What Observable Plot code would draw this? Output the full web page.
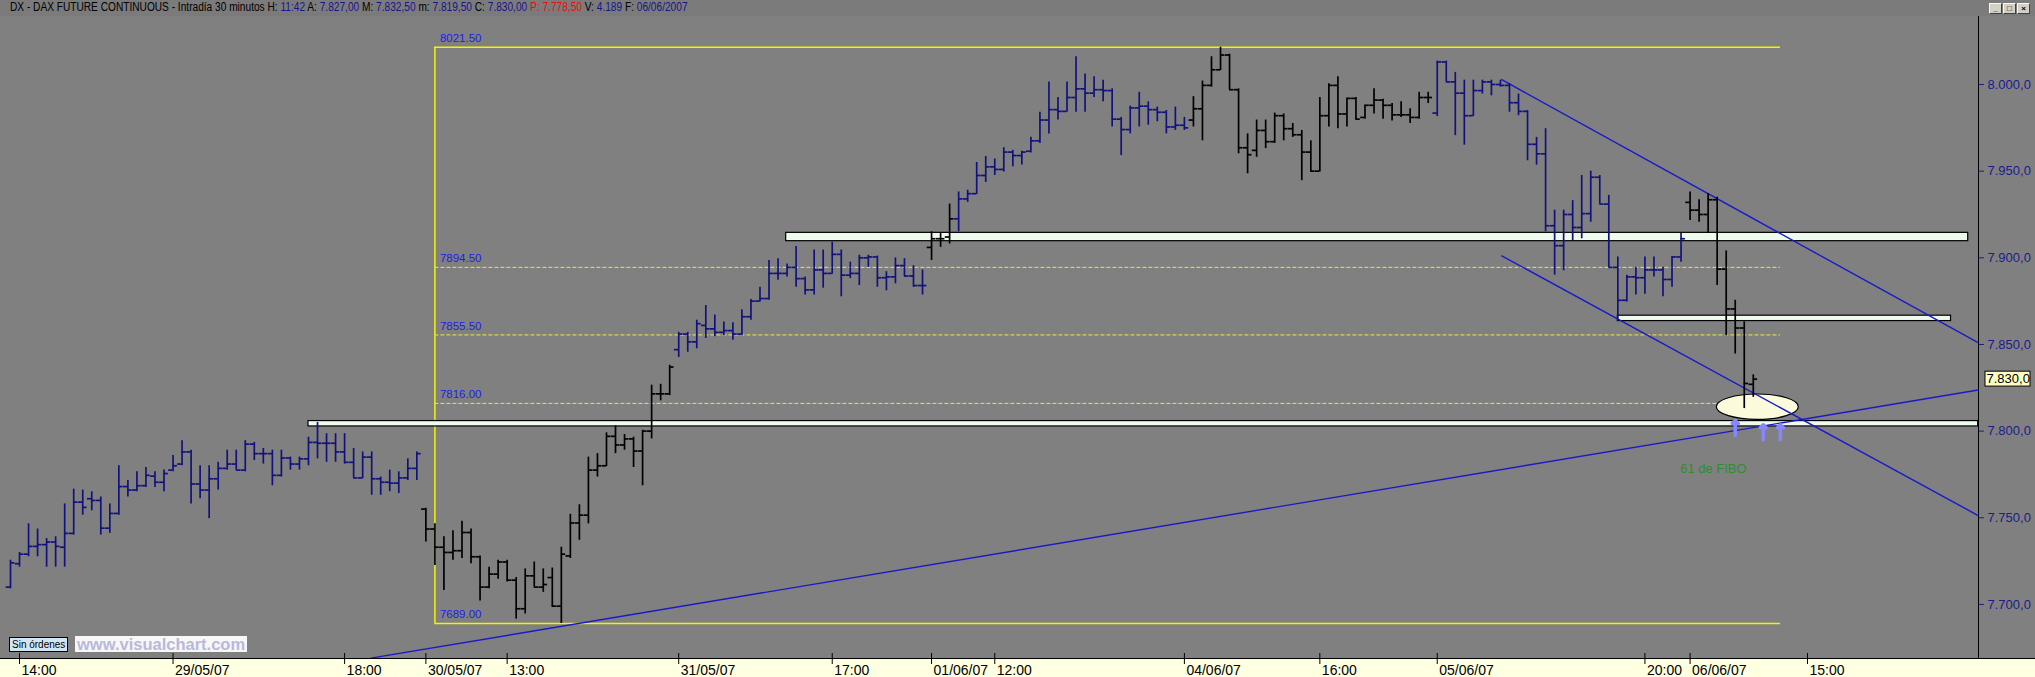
<!DOCTYPE html>
<html><head><meta charset="utf-8">
<script src="https://cdn.jsdelivr.net/npm/d3@7"></script>
<script src="https://cdn.jsdelivr.net/npm/@observablehq/plot@0.6"></script>
<style>
html,body{margin:0;padding:0;background:#808080;width:2035px;height:677px;overflow:hidden;}
#hdr{position:relative;height:16px;background:#7b7b7b;font-family:"Liberation Sans",Arial,sans-serif;font-size:12px;line-height:15px;white-space:pre;color:#000;box-sizing:border-box;}
#hdrtxt{position:absolute;left:10px;top:0;display:inline-block;transform:scaleX(0.845);transform-origin:0 0;}
#hdr .v{color:#16168a}
#hdr .r{color:#e01010}
#btns{position:absolute;right:5px;top:3px;display:flex;gap:1px;}
#btns span{display:block;width:11px;height:9px;background:#d4d0c8;border:1px solid #f8f8f8;border-right-color:#404040;border-bottom-color:#404040;font:bold 8px/9px "Liberation Sans",sans-serif;text-align:center;color:#000;}
#chart{position:relative;height:661px;}
#orders{position:absolute;left:9px;top:637px;height:13px;padding:0 2px;background:#cfe6f5;border:1px solid #000;font:10px/13px "Liberation Sans Narrow","Liberation Sans",sans-serif;color:#000;}
#brand{position:absolute;left:75px;top:636px;height:16px;padding:0 2px;background:#f7f7f7;font:bold 16.5px/16px "Liberation Sans",sans-serif;color:#b9b9dc;}
</style></head><body>
<div id="hdr"><div id="hdrtxt"><span>DX - DAX FUTURE CONTINUOUS - Intradía 30 minutos H: </span><span class="v">11:42</span><span> A: </span><span class="v">7.827,00</span><span> M: </span><span class="v">7.832,50</span><span> m: </span><span class="v">7.819,50</span><span> C: </span><span class="v">7.830,00</span><span class="r"> P: 7.778,50</span><span> V: </span><span class="v">4.189</span><span> F: </span><span class="v">06/06/2007</span></div>
<div id="btns"><span>_</span><span>□</span><span>×</span></div></div>
<div id="chart"></div>
<div id="orders">Sin órdenes</div>
<div id="brand">www.visualchart.com</div>
<script>
// ---- 30-minute OHLC bars, DAX future, 28/05/07 13:30 -> 06/06/07 12:00 (bar index 0..193)
const open = [
7710,7723.5,7729,7733.5,7734.5,7736,7733,7741,7759,7761,7760,7744,7752.5,7768,7766,7768.5,7774,7770.5,7777.5,7781,
7788,7769.5,7766,7772.5,7778.5,7781,7777.5,7792.5,7787,7787,7774.5,7784.5,7781,7784,7793.5,7793,7793,7788,7782,7773,
7785,7772.5,7770.5,7770,7773,7778.5,7755,7743.5,7733,7730,7731,7741.5,7727.5,7710,7717.5,7724.5,7714,7697.5,7716.5,7710,
7715.5,7699,7728,7747,7751.5,7777.5,7780,7797,7792,7795.5,7788.5,7800,7821.5,7821.5,7847,7856,7851.5,7861,7859,7857,
7858,7856,7866,7875,7876.5,7891,7891,7894.5,7888,7881.5,7893,7891,7902,7890,7891,7900,7900.5,7888.5,7889,7895.5,
7889.5,7884,7906,7911,7912,7922.5,7934,7937,7947.5,7952.5,7951,7961,7959,7961.5,7967.5,7979.5,7985.5,7984.5,7992.5,7997.5,
7995,7997,7996.5,7980,7974,7986.5,7987.5,7985.5,7984,7975.5,7976.5,7979.5,7986,7999.5,8008.5,8017,7997,7963.5,7962,7973.5,
7967,7982,7974.5,7971,7961,7950,7982,7999.5,7983,7992,7981,7988,7991,7988,7982.5,7982.5,7981,7992.5,7983.5,8013,
8001.5,7995,7982,7996.5,8001.5,8000,7999.5,7989.5,7984.5,7965.5,7960,7918.5,7907,7925,7917.5,7925.5,7946.5,7931,7894.5,7875.5,
7889,7888.5,7893,7893,7887.5,7900.5,7932,7927.5,7925,7933.5,7893.5,7870.5,7859.5,7827];
const high = [
7725.5,7730,7746.5,7743.5,7738,7739,7758,7766.5,7766,7765,7762,7758,7780,7771.5,7776.5,7779,7776.5,7777.5,7786,7794.5,
7789,7780,7780,7782,7789,7789,7794.5,7793.5,7790,7789,7789,7785,7785,7796.5,7805,7798.5,7798.5,7798.5,7790,7788,
7788,7773.5,7777.5,7776.5,7784,7788,7755.5,7746.5,7739,7742.5,7748,7743.5,7728,7721.5,7725.5,7725.5,7715.5,7720.5,7724.5,7720.5,
7721,7733,7752,7757.5,7785,7787,7799,7803,7798,7796.5,7800.5,7826.5,7827,7838,7857,7857,7864,7872.5,7867,7863,
7862.5,7870,7876,7883,7898.5,7899.5,7896.5,7906.5,7889,7904.5,7904.5,7909,7904.5,7897.5,7901.5,7901.5,7901,7892,7900,7899.5,
7895.5,7893,7915,7914,7931,7938,7939,7955,7958.5,7957,7963.5,7962,7961.5,7969.5,7984,8001.5,7992.5,8001.5,8016,8006,
8004.5,8002.5,7997.5,7981,7987.5,7995.5,7990,7987,7985,7987,7981,7993,8002,8016,8021.5,8017.5,7997.5,7971.5,7979.5,7979.5,
7983.5,7983,7977.5,7973.5,7967.5,7992.5,8000.5,8004.5,7992,7992.5,7988,7997.5,7991.5,7989,7990,7986,7995.5,7995.5,8013.5,8013.5,
8007,8002.5,8002.5,8002.5,8002.5,8002.5,8000.5,7994.5,7985,7969.5,7974.5,7927.5,7927.5,7933,7947.5,7950,7947.5,7936,7900.5,7890,
7894.5,7900.5,7900.5,7894.5,7900.5,7914,7938,7933.5,7937,7935,7904,7875.5,7863,7832.5];
const low = [
7709,7721.5,7727.5,7727.5,7721.5,7721.5,7721.5,7740,7751.5,7754,7740,7741,7751.5,7762,7765,7767.5,7767.5,7765,7776.5,7780,
7758,7761,7749.5,7766,7777.5,7777.5,7776.5,7783,7781,7768.5,7773.5,7777.5,7777.5,7780,7784,7782,7782,7781,7773,7772.5,
7763,7763,7765,7764,7771.5,7771.5,7736,7722.5,7708,7725.5,7726.5,7723.5,7702,7709,7714.5,7713,7691.5,7694.5,7710,7707,
7698.5,7689,7726.5,7737,7746.5,7773.5,7779.5,7787,7789,7779,7768.5,7795.5,7817.5,7820.5,7842.5,7845.5,7847.5,7853.5,7854.5,7855,
7852.5,7855,7864,7874.5,7875.5,7887,7889,7883,7878.5,7878.5,7882.5,7890.5,7877.5,7888,7884,7894.5,7883,7881,7885,7889,
7883,7878.5,7898.5,7906,7908,7915,7932,7936.5,7943.5,7947.5,7949.5,7952.5,7953.5,7960.5,7966,7971.5,7979.5,7984,7984,7984,
7992.5,7990,7975.5,7959,7971.5,7975.5,7976.5,7978.5,7971.5,7973.5,7973.5,7975.5,7967.5,7998.5,8008,7997,7960,7948.5,7958,7963,
7966,7967.5,7969.5,7944.5,7949.5,7949.5,7975.5,7974.5,7975.5,7979.5,7980,7983,7980,7979,7981,7977.5,7980,7989,7981.5,8001.5,
7970.5,7965,7981.5,7994.5,7993.5,7998.5,7984,7982,7956,7953.5,7915,7890,7892.5,7910,7911,7920.5,7931,7894.5,7864,7874.5,
7878.5,7879,7889,7877.5,7883,7897.5,7921.5,7920.5,7914,7884,7855,7844.5,7813,7819.5];
const close = [
7724,7729,7733.5,7734.5,7736,7733.5,7741,7759,7756,7760,7744,7752.5,7768,7766,7768.5,7774.5,7770.5,7775.5,7780,7788,
7769.5,7766,7772.5,7778.5,7781,7777.5,7792.5,7787,7787,7774.5,7784.5,7781,7784,7793.5,7793,7793,7788,7782,7773,7785,
7772.5,7770.5,7770,7773,7778.5,7787,7743.5,7733,7730,7731,7741.5,7727.5,7710,7717.5,7724.5,7714,7697.5,7716.5,7710,7711.5,
7699,7729,7747,7751.5,7777.5,7780,7797,7792,7795.5,7788.5,7800,7821.5,7821.5,7837,7856,7851.5,7862,7859,7857,7858,
7856,7866,7875,7876.5,7891,7891,7894.5,7888,7881.5,7893,7891,7902,7890,7891,7900,7900.5,7888.5,7889,7895.5,7889.5,
7884,7884,7911,7911,7922.5,7934,7937,7947.5,7952.5,7951,7961,7959,7961,7967.5,7979.5,7985.5,7984.5,7992.5,7997.5,7995,
7997,7996.5,7980,7974,7986.5,7987.5,7985.5,7984,7975.5,7976.5,7975,7986,7999.5,8008.5,8017,7997,7963.5,7959.5,7973.5,7967,
7982,7974.5,7971,7961,7950,7982,7999.5,7983,7992,7980,7988,7991,7988,7982.5,7982.5,7981,7992.5,7992.5,8013,8001.5,
7995,7982,7996.5,8001.5,8000,7999.5,7989.5,7984.5,7965.5,7960,7918.5,7907,7925,7917.5,7925.5,7946.5,7931,7894.5,7875.5,7889,
7888.5,7893,7893,7887.5,7900.5,7911,7927.5,7925,7933.5,7893.5,7870.5,7859.5,7827.5,7830];
// trend regime of each bar (run lengths): alcista = navy bars, bajista = black bars
const regimeRuns = [["alcista",46],["bajista",28],["alcista",28],["bajista",3],["alcista",26],["bajista",27],["alcista",28],["bajista",8]];

// ---- axes
const yTicks = [7700, 7750, 7800, 7850, 7900, 7950, 8000];
const xTickIdx = [1, 18, 37, 46, 55, 74, 91, 102, 109, 130, 145, 158, 181, 186, 199];
const xTickLabels = ["14:00","29/05/07","18:00","30/05/07","13:00","31/05/07","17:00","01/06/07","12:00","04/06/07","16:00","05/06/07","20:00","06/06/07","15:00"];

// ---- Fibonacci retracement (anchor bars and levels)
const fibStart = 47, fibEnd = 196;
const fibEdges = [8021.5, 7689];
const fibLevels = [7894.5, 7855.5, 7816];
const fibTexts = ["8021.50","7894.50","7855.50","7816.00","7689.00"];

// ---- support / resistance zones (bar index from/to, price lo/hi)
const zoneFrom = [33, 85.9, 178];
const zoneTo   = [217.9, 216.8, 214.9];
const zoneLo   = [7802.7, 7909.6, 7863.5];
const zoneHi   = [7805.8, 7914.4, 7866.6];

// ---- trend lines (bar index, price)
const lineX1 = [39.9, 165.1, 165.1];
const lineY1 = [7669, 8002.9, 7901.3];
const lineX2 = [217.9, 217.9, 217.9];
const lineY2 = [7823.7, 7851, 7751.3];

// ---- annotations
const fiboZone = {i: 193.5, price: 7813.8};
const signalIdx = [191, 194.1, 196];
const signalPrice = [7797.5, 7795, 7795];
const noteText = "61 de FIBO", noteIdx = 184.9, notePrice = 7778;

const xDomain = [-1.107, 217.94];
const yDomain = [7668.8, 8039.24];

const regime = regimeRuns.flatMap(([r, n]) => Array(n).fill(r));
const bars = open.map((o, i) => ({i, open: o, high: high[i], low: low[i], close: close[i], regime: regime[i]}));
const zones = zoneFrom.map((f, k) => ({from: f, to: zoneTo[k], lo: zoneLo[k], hi: zoneHi[k]}));
const tlines = lineX1.map((x, k) => ({x1: x, y1: lineY1[k], x2: lineX2[k], y2: lineY2[k]}));
const fibAll = [...fibEdges.slice(0,1), ...fibLevels, ...fibEdges.slice(1)].map((v, k) => ({v, t: fibTexts[k]}));
const signals = signalIdx.map((x, k) => ({i: x, price: signalPrice[k]}));
const labelMap = new Map(xTickIdx.map((d, k) => [d, xTickLabels[k]]));
const fmtY = d3.formatLocale({decimal: ",", thousands: ".", grouping: [3], currency: ["", ""]}).format(",.1f");
const last = bars[bars.length - 1];

function ellipseMark(index, scales) {
  const e = document.createElementNS("http://www.w3.org/2000/svg", "ellipse");
  e.setAttribute("cx", scales.x(fiboZone.i));
  e.setAttribute("cy", scales.y(fiboZone.price));
  e.setAttribute("rx", 41);
  e.setAttribute("ry", 12.7);
  e.setAttribute("fill", "#fbfbdc");
  e.setAttribute("stroke", "#000");
  e.setAttribute("stroke-width", 1.2);
  return e;
}

const yellow = "#f4f400";
const chart = Plot.plot({
  width: 2035, height: 661,
  marginLeft: 0, marginRight: 57, marginTop: 0, marginBottom: 19,
  x: {type: "linear", domain: xDomain, axis: null},
  y: {type: "linear", domain: yDomain, axis: null},
  color: {domain: ["alcista", "bajista"], range: ["#12127e", "#000000"]},
  style: {background: "linear-gradient(to bottom, #808080 0px, #808080 642px, #ffffe1 642px)", fontFamily: "Liberation Sans, Arial, sans-serif"},
  marks: [
    // Fibonacci box
    Plot.ruleY(fibEdges, {y: d => d, x1: fibStart, x2: fibEnd, stroke: yellow, strokeWidth: 1.5}),
    Plot.ruleX([fibStart], {x: d => d, y1: fibEdges[1], y2: fibEdges[0], stroke: yellow, strokeWidth: 1.5}),
    Plot.ruleY(fibLevels, {y: d => d, x1: fibStart, x2: fibEnd, stroke: "#e8e850", strokeWidth: 1, strokeDasharray: "4,2"}),
    Plot.text(fibAll, {x: fibStart, y: "v", text: "t", dx: 5, dy: -5, lineAnchor: "bottom", textAnchor: "start", fill: "#1c1cf0", fontSize: 11.5}),
    // zones
    Plot.rect(zones, {x1: "from", x2: "to", y1: "lo", y2: "hi", fill: "#eefbec", stroke: "#000", strokeWidth: 1.2}),
    // ellipse
    ellipseMark,
    // trend lines
    Plot.link(tlines, {x1: "x1", y1: "y1", x2: "x2", y2: "y2", stroke: "#1a1ac8", strokeWidth: 1.4}),
    // OHLC bars
    Plot.ruleX(bars, {x: "i", y1: "low", y2: "high", stroke: "regime", strokeWidth: 1.7}),
    Plot.ruleY(bars, {y: "open", x1: d => d.i - 0.48, x2: "i", stroke: "regime", strokeWidth: 1.7}),
    Plot.ruleY(bars, {y: "close", x1: "i", x2: d => d.i + 0.48, stroke: "regime", strokeWidth: 1.7}),
    // signals
    Plot.vector(signals, {x: "i", y: "price", length: 15, rotate: 0, anchor: "start", shape: "arrow", stroke: "#8686ff", strokeWidth: 3.5}),
    Plot.text([noteText], {x: noteIdx, y: notePrice, text: d => d, textAnchor: "start", fill: "#2e8e2e", fontSize: 13}),
    // frame lines
    Plot.ruleY([yDomain[0]], {y: d => d, stroke: "#000", insetRight: -57}),
    Plot.ruleX([xDomain[1]], {x: d => d, stroke: "#000"}),
    // right price axis
    Plot.axisY(yTicks, {anchor: "right", tickSize: 5, tickPadding: 4, tickFormat: fmtY, fontSize: 13, color: "#1c1c8c"}),
    // current price box
    Plot.rect([last], {x1: () => xDomain[1], x2: () => xDomain[1], y1: d => d.close - 4.3, y2: d => d.close + 4.3, insetLeft: 7, insetRight: -52, fill: "#ffffc4", stroke: "#000"}),
    Plot.text([last], {x: () => xDomain[1], y: "close", text: d => fmtY(d.close), dx: 8, textAnchor: "start", fill: "#000", fontSize: 13}),
    // time axis
    Plot.tickX(xTickIdx, {x: d => d, insetTop: 637, insetBottom: -6, stroke: "#000"}),
    Plot.text(xTickIdx, {x: d => d, text: d => labelMap.get(d), frameAnchor: "bottom", lineAnchor: "bottom", dy: 16, dx: 2, textAnchor: "start", fill: "#000", fontSize: 14, fontFamily: "Liberation Sans Narrow, Arial Narrow, Liberation Sans, sans-serif"})
  ]
});
document.getElementById("chart").appendChild(chart);
</script>
</body></html>
